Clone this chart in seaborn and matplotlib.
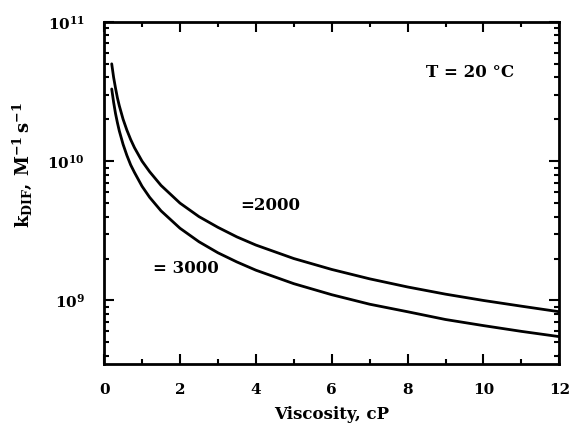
import numpy as np
import pandas as pd
import matplotlib
matplotlib.use("Agg")
import matplotlib.pyplot as plt
import seaborn as sns
from matplotlib.ticker import LogLocator, MultipleLocator, NullFormatter

# Data
viscosity = [0.2, 0.25, 0.3, 0.35, 0.4, 0.5, 0.6, 0.7, 0.8, 1.0, 1.2, 1.5, 2.0,
             2.5, 3.0, 3.5, 4.0, 5.0, 6.0, 7.0, 8.0, 9.0, 10.0, 11.0, 12.0]
k_2000 = [5.0e10, 4.0e10, 3.35e10, 2.85e10, 2.5e10, 2.0e10, 1.67e10, 1.43e10,
          1.25e10, 1.0e10, 8.4e9, 6.7e9, 5.0e9, 4.0e9, 3.35e9, 2.86e9, 2.5e9,
          2.0e9, 1.67e9, 1.43e9, 1.25e9, 1.11e9, 1.0e9, 9.1e8, 8.3e8]
k_3000 = [3.3e10, 2.65e10, 2.2e10, 1.89e10, 1.65e10, 1.32e10, 1.1e10, 9.4e9,
          8.3e9, 6.6e9, 5.5e9, 4.4e9, 3.3e9, 2.64e9, 2.2e9, 1.89e9, 1.65e9,
          1.32e9, 1.1e9, 9.4e8, 8.3e8, 7.3e8, 6.6e8, 6.0e8, 5.5e8]
series_labels = ["=2000", "= 3000"]
x_ticks = [0, 2, 4, 6, 8, 10, 12]

df = pd.DataFrame({
    "viscosity": viscosity * 2,
    "k": k_2000 + k_3000,
    "series": [series_labels[0]] * len(viscosity) + [series_labels[1]] * len(viscosity),
})

sns.set_style("ticks")
plt.rcParams["font.family"] = ["DejaVu Serif"]
plt.rcParams["font.weight"] = "bold"
plt.rcParams["mathtext.fontset"] = "custom"
plt.rcParams["mathtext.rm"] = "DejaVu Serif:bold"
plt.rcParams["mathtext.it"] = "DejaVu Serif:bold"
plt.rcParams["mathtext.bf"] = "DejaVu Serif:bold"
plt.rcParams["mathtext.default"] = "bf"
for key in ["text.color", "axes.labelcolor", "xtick.color", "ytick.color", "axes.edgecolor"]:
    plt.rcParams[key] = "black"

fig = plt.figure(figsize=(5.69, 4.38), dpi=100)
ax = fig.add_axes([0.183, 0.169, 0.800, 0.781])

sns.lineplot(data=df, x="viscosity", y="k", hue="series",
             palette=["black", "black"], linewidth=2.0, legend=False, ax=ax,
             estimator=None, sort=False)

ax.set_yscale("log")
ax.set_xlim(0, 12)
ax.set_ylim(3.5e8, 1e11)
ax.set_xticks(x_ticks)
ax.set_xticklabels([str(t) for t in x_ticks])
ax.xaxis.set_minor_locator(MultipleLocator(1))
ax.yaxis.set_major_locator(LogLocator(base=10, numticks=10))
ax.yaxis.set_minor_locator(LogLocator(base=10, subs=np.arange(2, 10), numticks=20))
ax.yaxis.set_minor_formatter(NullFormatter())

ax.tick_params(which="both", direction="in", top=True, right=True, width=1.5,
               labelsize=11, color="black")
ax.tick_params(which="major", length=7, pad=14)
ax.tick_params(which="minor", length=3.5)
for lab in ax.get_xticklabels() + ax.get_yticklabels():
    lab.set_fontweight("bold")

for s in ax.spines.values():
    s.set_linewidth(2)
    s.set_color("black")

ax.set_xlabel("Viscosity, cP", fontsize=12, fontweight="bold", labelpad=6)
ax.set_ylabel(r"$k_{DIF},\,M^{-1}\,s^{-1}$", fontsize=13)
ax.yaxis.set_label_coords(-0.155, 0.58)

ax.text(3.58, 4.8e9, series_labels[0], fontsize=12, fontweight="bold", va="center", ha="left")
ax.text(1.28, 1.7e9, series_labels[1], fontsize=12, fontweight="bold", va="center", ha="left")
ax.text(8.48, 4.3e10, "T = 20 °C", fontsize=12, fontweight="bold", va="center", ha="left")

fig.savefig("out.png", dpi=100)
